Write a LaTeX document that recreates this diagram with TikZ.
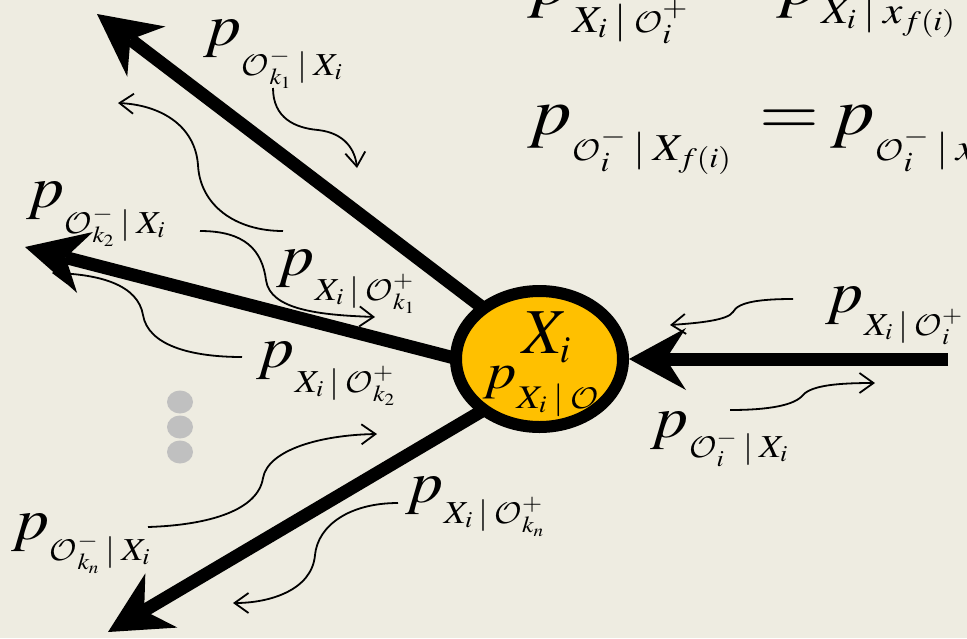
\documentclass[tikz,border=0pt]{standalone}
\usepackage{mathptmx}
\usepackage{graphicx}
\usetikzlibrary{arrows.meta,shapes.geometric,calc}
\DeclareMathAlphabet{\mycal}{OMS}{lmsy}{b}{n}
\DeclareMathSizes{59}{59}{32}{23}
\DeclareMathSizes{32}{32}{23}{17}
\DeclareMathSizes{67}{67}{38}{28}
\DeclareMathSizes{38}{38}{28}{20}
\DeclareMathSizes{51}{51}{33}{24}
\DeclareMathSizes{33}{33}{24}{17}
\DeclareMathSizes{64}{64}{38}{27}
\definecolor{bgc}{HTML}{EEECE1}
\definecolor{gold}{HTML}{FFC000}
\definecolor{dotc}{HTML}{C0C0C0}
\newcommand\gv{\mkern3mu|\mkern3mu}
\newcommand\cO{\mathord{\scalebox{1.2}{$\mycal{O}$}}}
\newcommand\plab[5]{\scalebox{#5}[1]{\fontsize{#1}{#1}\selectfont$p$\raisebox{-#3}{\fontsize{#2}{#2}\selectfont$#4$}}}
\newcommand\lab[2]{\plab{59}{32}{#1}{#2}{1.12}}
\newcommand\eqlab[2]{\plab{67}{38}{#1}{#2}{1.15}}
\pgfdeclarelayer{behind}
\pgfsetlayers{behind,main}
\tikzset{
  lbl/.style={anchor=base west, inner sep=0pt, outer sep=0pt},
  bigarrow/.style={line width=13pt, -{Stealth[length=62pt,width=63pt,inset=20pt,line width=0pt]}},
  bigarrowR/.style={line width=13pt, -{Stealth[length=57pt,width=62pt,inset=20pt,line width=0pt]}},
  wave/.style={line width=1.8pt, -{Straight Barb[length=14pt,width=20pt]}},
  xinode/.style={draw, line width=12pt, fill=gold, ellipse, minimum width=167pt, minimum height=136pt, inner sep=0pt}
}
\begin{document}
\begin{tikzpicture}[x=1pt,y=-1pt]
\useasboundingbox (0,0) rectangle (967,638);
\begin{pgfonlayer}{behind}
\fill[bgc] (0,0) rectangle (967,638);
\end{pgfonlayer}

% central node
\node[xinode] (xi) at (539.5,359) {};
\node[lbl] (xitxt) at (522,353) {\fontsize{64}{64}\selectfont$X_i$};
\node[lbl] (xipost) at (483,388) {\plab{51}{33}{20pt}{X_i\gv\cO}{1.15}};

% big arrows
\coordinate (t1) at (97,14);
\coordinate (t2) at (25,247);
\coordinate (t3) at (108,632);
\coordinate (tr) at (948,359);
\begin{pgfonlayer}{behind}
\draw[bigarrow] ($(xi.center)+(0,-8)$) -- (t1);
\draw[bigarrow] ($(xi.center)+(0,21)$) -- (t2);
\draw[bigarrow] ($(xi.center)+(0,18)$) -- (t3);
\end{pgfonlayer}
\draw[bigarrowR] (tr) -- (xi.east);

% dots
\fill[dotc] (180,402) ellipse [x radius=13pt, y radius=11.5pt];
\fill[dotc] (180,427) ellipse [x radius=13pt, y radius=11.5pt];
\fill[dotc] (180,452) ellipse [x radius=13pt, y radius=11.5pt];

% labels
\node[lbl] (l1) at (204,45)  {\lab{30pt}{\cO_{k_1}^{-}\gv X_i}};
\node[lbl] (l2) at (27,207)  {\lab{26pt}{\cO_{k_2}^{-}\gv X_i}};
\node[lbl] (l3) at (277,275) {\lab{25pt}{X_i\gv\cO_{k_1}^{+}}};
\node[lbl] (l4) at (257,367) {\lab{25pt}{X_i\gv\cO_{k_2}^{+}}};
\node[lbl] (l5) at (826,312) {\lab{23pt}{X_i\gv\cO_i^{+}}};
\node[lbl] (l6) at (651,437) {\lab{20pt}{\cO_i^{-}\gv X_i}};
\node[lbl] (l7) at (406,502) {\lab{21pt}{X_i\gv\cO_{k_n}^{+}}};
\node[lbl] (l8) at (12,539)  {\lab{21pt}{\cO_{k_n}^{-}\gv X_i}};

% equations
\node[lbl] (e1a) at (528,4)   {\eqlab{28pt}{X_i\gv\cO_i^{+}}};
\node[lbl] (e1b) at (777,4)   {\eqlab{19pt}{X_i\gv x_{f(i)}}};
\node[lbl] (e2a) at (528,134) {\eqlab{26pt}{\cO_i^{-}\gv X_{f(i)}}};
\node[lbl] (e2q) at (759,134) {\scalebox{1.15}[1]{\fontsize{67}{67}\selectfont$=$}};
\node[lbl] (e2b) at (831,134) {\eqlab{26pt}{\cO_i^{-}\gv x_i}};

% wavy message arrows
\coordinate (a0) at (273,88);  \coordinate (a1) at (357,168);
\coordinate (b0) at (283,231); \coordinate (b1) at (118,103);
\coordinate (c0) at (200,231); \coordinate (c1) at (375,317);
\coordinate (d0) at (242,357); \coordinate (d1) at (52,273);
\coordinate (e0) at (793,299); \coordinate (e1) at (670,325);
\coordinate (f0) at (730,410); \coordinate (f1) at (875,383);
\coordinate (g0) at (148,527); \coordinate (g1) at (377,434);
\coordinate (h0) at (398,503); \coordinate (h1) at (233,603);
\draw[wave] (a0) .. controls (273,118) and (295,128) .. (318,130) .. controls (345,133) and (355,150) .. (a1);
\draw[wave] (b0) .. controls (235,231) and (200,205) .. (198,165) .. controls (195,125) and (160,105) .. (b1);
\draw[wave] (c0) .. controls (245,231) and (262,250) .. (266,280) .. controls (270,310) and (320,315) .. (c1);
\draw[wave] (d0) .. controls (190,357) and (148,345) .. (143,315) .. controls (138,285) and (100,274) .. (d1);
\draw[wave] (e0) .. controls (760,299) and (738,302) .. (733,312) .. controls (728,320) and (700,323) .. (e1);
\draw[wave] (f0) .. controls (770,410) and (795,405) .. (803,395) .. controls (812,385) and (840,383) .. (f1);
\draw[wave] (g0) .. controls (210,525) and (258,510) .. (263,478) .. controls (268,450) and (320,435) .. (g1);
\draw[wave] (h0) .. controls (350,503) and (318,525) .. (315,555) .. controls (312,590) and (270,603) .. (h1);
\end{tikzpicture}
\end{document}
